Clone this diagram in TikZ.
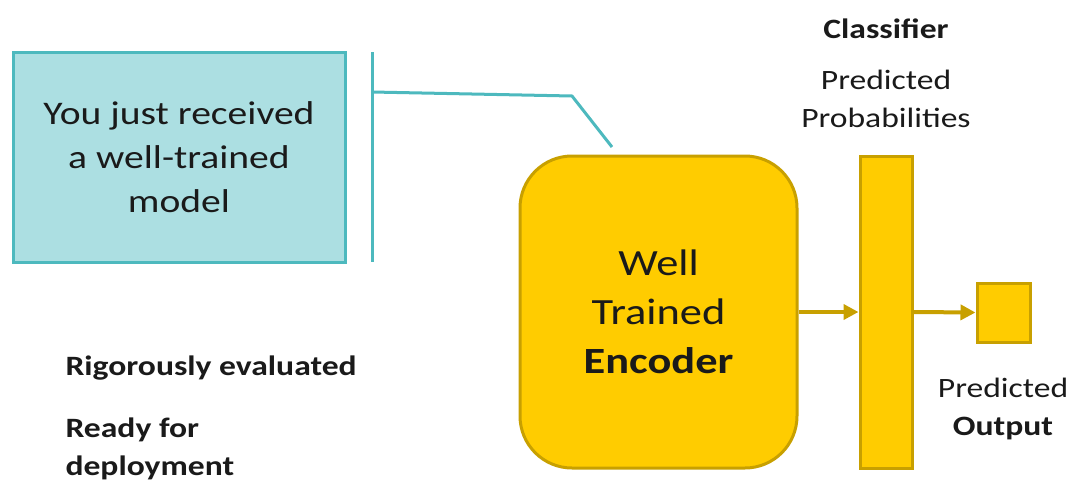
\documentclass[tikz,border=0pt]{standalone}
\usepackage{fontspec}
\setmainfont{Carlito}[FakeStretch=1.2]
\usetikzlibrary{arrows.meta}
\definecolor{notefill}{HTML}{ACDFE2}
\definecolor{noteline}{HTML}{4DB9BE}
\definecolor{goldfill}{HTML}{FFCC00}
\definecolor{goldline}{HTML}{C8A000}
\definecolor{ink}{HTML}{1A1A1A}
\begin{document}
\begin{tikzpicture}[x=1pt,y=-1pt,text=ink,
    block/.style={draw=goldline,fill=goldfill,line width=3pt,inner sep=0pt},
    link/.style={goldline,line width=4pt,-{Triangle[length=15pt,width=15pt]}},
    leader/.style={noteline,line width=3pt},
    small/.style={font=\fontsize{28}{38}\selectfont,align=center}]
  \useasboundingbox (0,0) rectangle (1069,499);
  % callout box and its leader line
  \node[draw=noteline,fill=notefill,line width=3pt,minimum width=332pt,minimum height=210pt,
    align=center,font=\fontsize{33}{44}\selectfont] (note) at (179,157)
    {You just received\\a well-trained\\model};
  \coordinate (tickTop) at (372,52);
  \coordinate (tickBot) at (372,262);
  \coordinate (bend) at (572,96);
  \coordinate (tip) at (612,147);
  \draw[leader] (tickTop) -- (tickBot);
  \draw[leader] (372,92) -- (bend) -- (tip);
  % encoder, classifier and output
  \node[block,rounded corners=52pt,minimum width=277pt,minimum height=312pt,align=center,
    font=\fontsize{37}{49}\selectfont] (enc) at (658.5,312) {Well\\Trained\\\textbf{Encoder}};
  \node[block,minimum width=52pt,minimum height=312pt] (clf) at (886,312) {};
  \node[block,minimum width=53pt,minimum height=59pt] (out) at (1003.5,312.5) {};
  \draw[link] (enc.east) -- (clf.west);
  \draw[link] (clf.east) -- (out.west);
  % labels
  \node[small,font=\fontsize{28}{38}\selectfont\bfseries] (clfname) at (886,29) {Classifier};
  \node[small] (probs) at (886,99) {Predicted\\Probabilities};
  \node[small] (outname) at (1003,409) {Predicted\\\textbf{Output}};
  \node[small,anchor=west,align=left] (eval) at (62,368) {\textbf{Rigorously evaluated}};
  \node[small,anchor=west,align=left] (ready) at (62,449) {\textbf{Ready for}\\\textbf{deployment}};
\end{tikzpicture}
\end{document}
